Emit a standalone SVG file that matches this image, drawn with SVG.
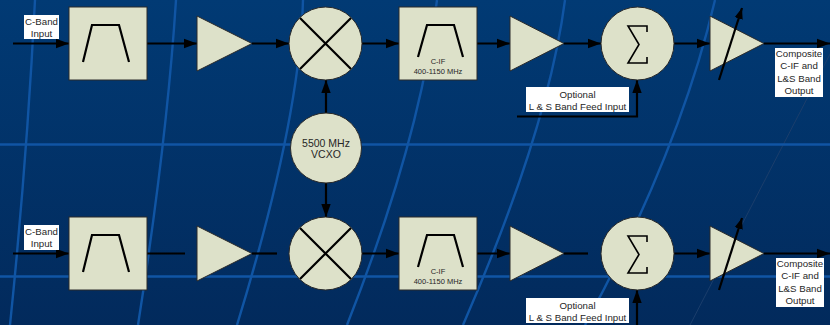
<svg xmlns="http://www.w3.org/2000/svg" width="830" height="325" viewBox="0 0 830 325">
<defs>
<linearGradient id="bg" x1="0" y1="0" x2="0" y2="1">
<stop offset="0" stop-color="#013a74"/>
<stop offset="1" stop-color="#022a5c"/>
</linearGradient>
<marker id="ah" markerUnits="userSpaceOnUse" markerWidth="14" markerHeight="11" refX="13" refY="5.5" orient="auto">
<path d="M0,0.8 L13,5.5 L0,10.2 z" fill="#000"/>
</marker>
<marker id="ahs" markerUnits="userSpaceOnUse" markerWidth="12" markerHeight="10" refX="11" refY="5" orient="auto">
<path d="M0,0.8 L11,5 L0,9.2 z" fill="#000"/>
</marker>
</defs>
<style>
.bgl{fill:none;stroke:#1055a4;stroke-width:2.4}
.node{fill:#dde1c9;stroke:#2a2a2a;stroke-width:1}
.sym{fill:none;stroke:#000;stroke-width:2.2}
.sig{fill:none;stroke:#000;stroke-width:1.6}
.conn{fill:none;stroke:#000;stroke-width:2.2}
.arr{marker-end:url(#ah)}
.lbl{fill:#fff}
text{font-family:"Liberation Sans",Arial,sans-serif;fill:#262626;text-anchor:middle}
.t9{font-size:9.7px}
.t7{font-size:7.5px}
.t10{font-size:10.5px}
</style>
<g id="background">
<rect x="0" y="0" width="830" height="325" fill="url(#bg)"/>
<path class="bgl" d="M35,0 Q27,160 10,325"/>
<path class="bgl" d="M176,0 Q167,140 138,325"/>
<path class="bgl" d="M303,0 Q300,120 237,325"/>
<path class="bgl" d="M437,0 Q420,140 347,325"/>
<path class="bgl" d="M565,0 Q548,130 463,325"/>
<path class="bgl" d="M715,0 Q680,150 585,325"/>
<path d="M858,0 L690,325" fill="none" stroke="#1b3e6c" stroke-width="1"/>
<path class="bgl" d="M0,144.5 H830"/>
<path class="bgl" d="M0,276.5 H830"/>
</g>
<g id="connectors">
<path class="conn arr" d="M13,43.5 H69"/>
<path class="conn arr" d="M147,43.5 H197"/>
<path class="conn arr" d="M252,43.5 H289"/>
<path class="conn arr" d="M362,43.5 H399"/>
<path class="conn arr" d="M477,43.5 H510"/>
<path class="conn arr" d="M564,43.5 H601"/>
<path class="conn arr" d="M674,43.5 H710"/>
<path class="conn arr" d="M764,43.5 H830"/>
<path class="conn arr" d="M517,116.5 H637 V80"/>
<path class="conn arr" d="M326,113 V80"/>
<path class="conn arr" d="M326,183 V217"/>
<path class="conn arr" d="M13,253.5 H69"/>
<path class="conn" d="M147,253.5 H185"/>
<path class="conn" d="M252,253.5 H277"/>
<path class="conn arr" d="M362,253.5 H399"/>
<path class="conn arr" d="M477,253.5 H510"/>
<path class="conn" d="M564,253.5 H588"/>
<path class="conn arr" d="M674,253.5 H710"/>
<path class="conn arr" d="M764,253.5 H830"/>
<path class="conn arr" d="M637,326 V290"/>
</g>
<g id="in1">
<rect class="lbl" x="24" y="15" width="35" height="24"/>
<text class="t9" x="41.5" y="24.5">C-Band</text>
<text class="t9" x="41.5" y="36.5">Input</text>
</g>
<g id="bpf1">
<rect class="node" x="69" y="7" width="78" height="73"/>
<path class="sym" d="M83,62 L92,25 H119 L129,62"/>
</g>
<g id="amp1">
<path class="node" d="M197,16 L252,43.5 L197,71 z"/>
</g>
<g id="mix1">
<circle class="node" cx="325.5" cy="43.5" r="36.5"/>
<path class="sym" d="M300,18 L351,69 M351,18 L300,69"/>
</g>
<g id="cif1">
<rect class="node" x="399" y="7" width="78" height="73"/>
<path class="sym" d="M418,57 L427,25 H454 L463,57"/>
<text class="t7" x="438" y="64">C-IF</text>
<text class="t7" x="438" y="74">400-1150 MHz</text>
</g>
<g id="amp2">
<path class="node" d="M510,16 L564,43.5 L510,71 z"/>
</g>
<g id="sum1">
<circle class="node" cx="637.5" cy="43.5" r="36.5"/>
<path class="sig" d="M647,32 V26 H628 L639,44.5 L628,63 H647 V57"/>
</g>
<g id="vamp1">
<path class="node" d="M710,16 L764,43.5 L710,71 z"/>
<path class="conn" d="M719,80 L742,8" marker-end="url(#ahs)"/>
</g>
<g id="out1">
<rect class="lbl" x="775" y="48" width="48" height="49"/>
<text class="t9" x="799" y="56.5">Composite</text>
<text class="t9" x="799" y="69">C-IF and</text>
<text class="t9" x="799" y="81.5">L&amp;S Band</text>
<text class="t9" x="799" y="94">Output</text>
</g>
<g id="opt1">
<rect class="lbl" x="526" y="87" width="103" height="25"/>
<text class="t9" x="577.5" y="97.5">Optional</text>
<text class="t9" x="577.5" y="110">L &amp; S Band Feed Input</text>
</g>
<g id="vcxo">
<ellipse class="node" cx="326" cy="148" rx="35.5" ry="35"/>
<text class="t10" x="326" y="146.5">5500 MHz</text>
<text class="t10" x="326" y="158">VCXO</text>
</g>
<g id="in2">
<rect class="lbl" x="24" y="225" width="35" height="25"/>
<text class="t9" x="41.5" y="234.5">C-Band</text>
<text class="t9" x="41.5" y="246.5">Input</text>
</g>
<g id="bpf2">
<rect class="node" x="69" y="217" width="78" height="73"/>
<path class="sym" d="M83,272 L92,235 H119 L129,272"/>
</g>
<g id="amp3">
<path class="node" d="M197,226 L252,253.5 L197,281 z"/>
</g>
<g id="mix2">
<circle class="node" cx="325.5" cy="253.5" r="36.5"/>
<path class="sym" d="M300,228 L351,279 M351,228 L300,279"/>
</g>
<g id="cif2">
<rect class="node" x="399" y="217" width="78" height="73"/>
<path class="sym" d="M418,267 L427,235 H454 L463,267"/>
<text class="t7" x="438" y="274">C-IF</text>
<text class="t7" x="438" y="284">400-1150 MHz</text>
</g>
<g id="amp4">
<path class="node" d="M510,226 L564,253.5 L510,281 z"/>
</g>
<g id="sum2">
<circle class="node" cx="637.5" cy="253.5" r="36.5"/>
<path class="sig" d="M647,242 V236 H628 L639,254.5 L628,273 H647 V267"/>
</g>
<g id="vamp2">
<path class="node" d="M710,226 L764,253.5 L710,281 z"/>
<path class="conn" d="M719,290 L742,218" marker-end="url(#ahs)"/>
</g>
<g id="out2">
<rect class="lbl" x="776" y="258" width="48" height="49"/>
<text class="t9" x="800" y="266.5">Composite</text>
<text class="t9" x="800" y="279">C-IF and</text>
<text class="t9" x="800" y="291.5">L&amp;S Band</text>
<text class="t9" x="800" y="304">Output</text>
</g>
<g id="opt2">
<rect class="lbl" x="526" y="298" width="103" height="25"/>
<text class="t9" x="577.5" y="308.5">Optional</text>
<text class="t9" x="577.5" y="321">L &amp; S Band Feed Input</text>
</g>
</svg>
